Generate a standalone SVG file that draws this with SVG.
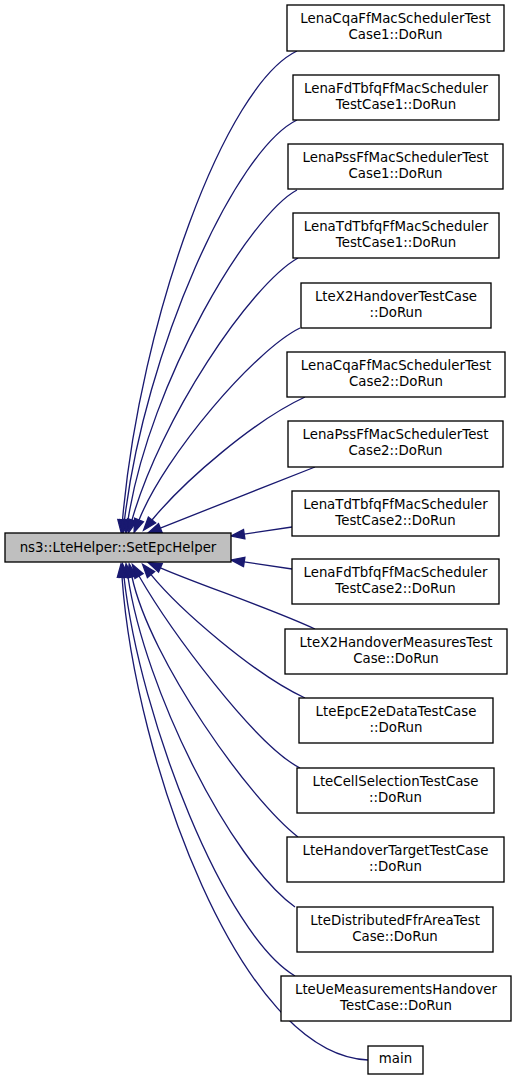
<svg xmlns="http://www.w3.org/2000/svg" width="517" height="1080" viewBox="0 0 517 1080">
<style>
.n rect{fill:#ffffff;stroke:#000000;stroke-width:1.33}
.m rect{fill:#bfbfbf;stroke:#000000;stroke-width:1.33}
text{font-family:"DejaVu Sans","Liberation Sans",sans-serif;font-size:13.33px;fill:#000000;text-anchor:middle}
.e path{fill:none;stroke:#191970;stroke-width:1.33;marker-end:url(#ah)}
</style>
<defs>
<marker id="ah" markerUnits="userSpaceOnUse" orient="auto" markerWidth="20" markerHeight="20" viewBox="0 -10 20 20" refX="0" refY="0" overflow="visible">
<path d="M0,-4.7 L13.3,0 L0,4.7 Z" fill="#191970" stroke="#191970" stroke-width="1.33"/>
</marker>
</defs>
<rect width="517" height="1080" fill="#ffffff"/>
<g id="edges" class="e">
<path d="M297,51 C225,85 140,320 122.5,520"/>
<path d="M297,120 C235,150 145,350 124.5,520"/>
<path d="M297,190 C250,215 150,380 128,520"/>
<path d="M298,258 C250,285 160,420 132,520"/>
<path d="M300,328 C255,350 165,455 139,520"/>
<path d="M305,397 C255,420 185,480 152,520"/>
<path d="M315,467 C270,485 200,512 160.3,528.1"/>
<path d="M292,527 L244.2,534.1"/>
<path d="M292,569 L244.2,561.9"/>
<path d="M315,629 C270,608 200,585 160.4,567.8"/>
<path d="M305,698 C255,675 180,610 151,574.6"/>
<path d="M300,768 C255,745 170,630 139,576"/>
<path d="M298,837 C250,800 150,660 132,577"/>
<path d="M295,907 C230,860 145,690 128,577"/>
<path d="M295,976 C225,935 140,720 124,577"/>
<path d="M368,1060 C240,1055 135,760 122,577"/>
</g>
<g id="main" class="m"><rect x="5" y="533" width="226" height="29"/><text x="118" y="551.7">ns3::LteHelper::SetEpcHelper</text></g>
<g id="n1" class="n"><rect x="287" y="5" width="217" height="46"/><text x="395.5" y="23">LenaCqaFfMacSchedulerTest</text><text x="395.5" y="39">Case1::DoRun</text></g>
<g id="n2" class="n"><rect x="293" y="75" width="206" height="45"/><text x="396" y="92.5">LenaFdTbfqFfMacScheduler</text><text x="396" y="108.5">TestCase1::DoRun</text></g>
<g id="n3" class="n"><rect x="288" y="144" width="215" height="45"/><text x="395.5" y="161.5">LenaPssFfMacSchedulerTest</text><text x="395.5" y="177.5">Case1::DoRun</text></g>
<g id="n4" class="n"><rect x="293" y="213" width="206" height="45"/><text x="396" y="230.5">LenaTdTbfqFfMacScheduler</text><text x="396" y="246.5">TestCase1::DoRun</text></g>
<g id="n5" class="n"><rect x="301" y="283" width="190" height="45"/><text x="396" y="300.5">LteX2HandoverTestCase</text><text x="396" y="316.5">::DoRun</text></g>
<g id="n6" class="n"><rect x="287" y="352" width="218" height="45"/><text x="396" y="369.5">LenaCqaFfMacSchedulerTest</text><text x="396" y="385.5">Case2::DoRun</text></g>
<g id="n7" class="n"><rect x="288" y="421" width="215" height="46"/><text x="395.5" y="438.5">LenaPssFfMacSchedulerTest</text><text x="395.5" y="454.5">Case2::DoRun</text></g>
<g id="n8" class="n"><rect x="292" y="491" width="207" height="45"/><text x="395.5" y="508.5">LenaTdTbfqFfMacScheduler</text><text x="395.5" y="524.5">TestCase2::DoRun</text></g>
<g id="n9" class="n"><rect x="292" y="559" width="207" height="45"/><text x="395.5" y="576.5">LenaFdTbfqFfMacScheduler</text><text x="395.5" y="592.5">TestCase2::DoRun</text></g>
<g id="n10" class="n"><rect x="285" y="629" width="222" height="45"/><text x="396" y="646.5">LteX2HandoverMeasuresTest</text><text x="396" y="662.5">Case::DoRun</text></g>
<g id="n11" class="n"><rect x="299" y="698" width="194" height="45"/><text x="396" y="715.5">LteEpcE2eDataTestCase</text><text x="396" y="731.5">::DoRun</text></g>
<g id="n12" class="n"><rect x="297" y="768" width="197" height="45"/><text x="395.5" y="785.5">LteCellSelectionTestCase</text><text x="395.5" y="801.5">::DoRun</text></g>
<g id="n13" class="n"><rect x="287" y="837" width="217" height="45"/><text x="395.5" y="854.5">LteHandoverTargetTestCase</text><text x="395.5" y="870.5">::DoRun</text></g>
<g id="n14" class="n"><rect x="297" y="907" width="196" height="45"/><text x="395" y="924.5">LteDistributedFfrAreaTest</text><text x="395" y="940.5">Case::DoRun</text></g>
<g id="n15" class="n"><rect x="281" y="976" width="230" height="45"/><text x="396" y="993.5">LteUeMeasurementsHandover</text><text x="396" y="1009.5">TestCase::DoRun</text></g>
<g id="n16" class="n"><rect x="368" y="1046" width="55" height="28"/><text x="395.5" y="1063">main</text></g>
</svg>
